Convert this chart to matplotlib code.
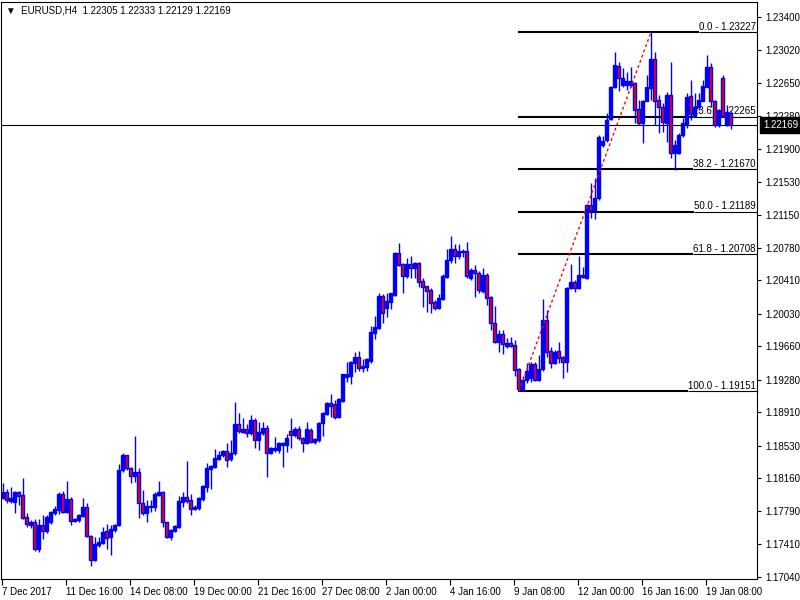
import matplotlib
matplotlib.use("Agg")
import matplotlib.pyplot as plt

plt.rcParams['font.family'] = ['Liberation Sans', 'DejaVu Sans']
plt.rcParams['font.size'] = 7

# EURUSD H4 candles, 7 Dec 2017 .. 19 Jan 2018 (one entry per bar)
opens = [1.1794, 1.1800, 1.1790, 1.1789, 1.1801, 1.1797, 1.1772, 1.1763, 1.1767, 1.1736,
         1.1763, 1.1756, 1.1767, 1.1777, 1.1780, 1.1798, 1.1778, 1.1793, 1.1768, 1.1769,
         1.1773, 1.1784, 1.1750, 1.1723, 1.1740, 1.1743, 1.1756, 1.1749, 1.1757, 1.1763,
         1.1825, 1.1842, 1.1828, 1.1819, 1.1823, 1.1788, 1.1777, 1.1783, 1.1783, 1.1797,
         1.1801, 1.1766, 1.1749, 1.1756, 1.1761, 1.1789, 1.1795, 1.1791, 1.1781, 1.1782,
         1.1793, 1.1806, 1.1827, 1.1829, 1.1838, 1.1842, 1.1847, 1.1838, 1.1845, 1.1878,
         1.1869, 1.1872, 1.1868, 1.1882, 1.1859, 1.1868, 1.1873, 1.1845, 1.1848, 1.1848,
         1.1854, 1.1854, 1.1870, 1.1865, 1.1872, 1.1862, 1.1856, 1.1871, 1.1857, 1.1859,
         1.1879, 1.1889, 1.1902, 1.1901, 1.1886, 1.1904, 1.1931, 1.1932, 1.1947, 1.1954,
         1.1941, 1.1942, 1.1949, 1.1981, 1.1987, 1.2023, 1.2010, 1.2016, 1.2024, 1.2072,
         1.2059, 1.2046, 1.2059, 1.2055, 1.2061, 1.2040, 1.2034, 1.2030, 1.2016, 1.2009,
         1.2020, 1.2045, 1.2064, 1.2076, 1.2068, 1.2073, 1.2074, 1.2043, 1.2053, 1.2049,
         1.2029, 1.2047, 1.2022, 1.1992, 1.1971, 1.1980, 1.1966, 1.1970, 1.1967, 1.1940,
         1.1917, 1.1928, 1.1930, 1.1946, 1.1928, 1.1940, 1.1996, 1.1961, 1.1947, 1.1961,
         1.1954, 1.1948, 1.2032, 1.2039, 1.2032, 1.2047, 1.2043, 1.2126, 1.2121, 1.2134,
         1.2195, 1.2200, 1.2224, 1.2261, 1.2284, 1.2263, 1.2263, 1.2263, 1.2265, 1.2235,
         1.2220, 1.2245, 1.2259, 1.2292, 1.2246, 1.2238, 1.2220, 1.2251, 1.2185, 1.2185,
         1.2206, 1.2219, 1.2250, 1.2228, 1.2238, 1.2245, 1.2261, 1.2283, 1.2244, 1.2217,
         1.2271, 1.2217, 1.22305]
highs = [1.1811, 1.1804, 1.1806, 1.1802, 1.1802, 1.1816, 1.1777, 1.1769, 1.1770, 1.1770,
         1.1774, 1.1774, 1.1779, 1.1785, 1.1801, 1.1802, 1.1813, 1.1795, 1.1771, 1.1775,
         1.1794, 1.1788, 1.1752, 1.1749, 1.1749, 1.1761, 1.1764, 1.1763, 1.1764, 1.1832,
         1.1845, 1.1843, 1.1829, 1.1864, 1.1828, 1.1803, 1.1791, 1.1791, 1.1800, 1.1813,
         1.1802, 1.1767, 1.1758, 1.1763, 1.1796, 1.1800, 1.1836, 1.1798, 1.1786, 1.1795,
         1.1808, 1.1834, 1.1831, 1.1849, 1.1847, 1.1848, 1.1856, 1.1860, 1.1903, 1.1890,
         1.1885, 1.1878, 1.1888, 1.1885, 1.1880, 1.1880, 1.1877, 1.1852, 1.1863, 1.1857,
         1.1857, 1.1866, 1.1885, 1.1874, 1.1875, 1.1863, 1.1880, 1.1873, 1.1862, 1.1880,
         1.1891, 1.1903, 1.1912, 1.1905, 1.1907, 1.1935, 1.1948, 1.1949, 1.1959, 1.1961,
         1.1951, 1.1953, 1.1989, 1.2000, 1.2026, 1.2025, 1.2026, 1.2027, 1.2073, 1.2083,
         1.2061, 1.2066, 1.2068, 1.2062, 1.2062, 1.2043, 1.2035, 1.2032, 1.2019, 1.2025,
         1.2048, 1.2077, 1.2091, 1.2082, 1.2082, 1.2077, 1.2084, 1.2055, 1.2058, 1.2052,
         1.2055, 1.2049, 1.2023, 1.2012, 1.1985, 1.1985, 1.1975, 1.1976, 1.1973, 1.1941,
         1.1932, 1.1947, 1.1948, 1.1948, 1.1956, 1.2020, 1.2007, 1.1965, 1.1962, 1.1971,
         1.1955, 1.2033, 1.2060, 1.2041, 1.2068, 1.2056, 1.2128, 1.2151, 1.2157, 1.2206,
         1.2205, 1.2231, 1.2262, 1.2300, 1.2289, 1.2282, 1.2278, 1.2283, 1.2266, 1.2246,
         1.2246, 1.2274, 1.23227, 1.2300, 1.2251, 1.2242, 1.2255, 1.2289, 1.2200, 1.2208,
         1.2225, 1.2254, 1.2268, 1.2254, 1.2254, 1.2268, 1.2297, 1.2288, 1.2246, 1.2236,
         1.2274, 1.2240, 1.22333]
lows = [1.1793, 1.1788, 1.1788, 1.1777, 1.1786, 1.1770, 1.1761, 1.1760, 1.1733, 1.1732,
        1.1747, 1.1754, 1.1764, 1.1774, 1.1775, 1.1777, 1.1777, 1.1763, 1.1767, 1.1766,
        1.1772, 1.1749, 1.1717, 1.1722, 1.1738, 1.1741, 1.1736, 1.1729, 1.1755, 1.1762,
        1.1823, 1.1826, 1.1811, 1.1812, 1.1771, 1.1774, 1.1766, 1.1778, 1.1779, 1.1796,
        1.1761, 1.1748, 1.1746, 1.1755, 1.1760, 1.1783, 1.1788, 1.1774, 1.1780, 1.1780,
        1.1790, 1.1800, 1.1804, 1.1828, 1.1837, 1.1840, 1.1829, 1.1836, 1.1842, 1.1868,
        1.1868, 1.1863, 1.1865, 1.1851, 1.1848, 1.1865, 1.1818, 1.1844, 1.1846, 1.1845,
        1.1829, 1.1846, 1.1850, 1.1863, 1.1859, 1.1846, 1.1855, 1.1856, 1.1855, 1.1857,
        1.1864, 1.1888, 1.1886, 1.1883, 1.1885, 1.1903, 1.1925, 1.1923, 1.1937, 1.1938,
        1.1937, 1.1938, 1.1947, 1.1974, 1.1986, 1.1993, 1.1999, 1.2008, 1.2023, 1.2057,
        1.2026, 1.2043, 1.2044, 1.2043, 1.2033, 1.2011, 1.2005, 1.2004, 1.2007, 1.2008,
        1.2019, 1.2043, 1.2061, 1.2061, 1.2065, 1.2067, 1.2043, 1.2041, 1.2022, 1.2027,
        1.2026, 1.2013, 1.1985, 1.1970, 1.1959, 1.1957, 1.1964, 1.1965, 1.1932, 1.19151,
        1.1916, 1.1924, 1.1925, 1.1927, 1.1927, 1.1938, 1.1954, 1.1941, 1.1946, 1.1947,
        1.1930, 1.1937, 1.2031, 1.2028, 1.2031, 1.2043, 1.2042, 1.2112, 1.2111, 1.2132,
        1.2192, 1.2198, 1.2223, 1.2259, 1.2256, 1.2260, 1.2257, 1.2261, 1.2220, 1.2217,
        1.2197, 1.2244, 1.2246, 1.2217, 1.2208, 1.2209, 1.2198, 1.2180, 1.2166, 1.2184,
        1.2204, 1.2214, 1.2223, 1.2226, 1.2234, 1.2244, 1.2260, 1.2238, 1.2215, 1.2215,
        1.2226, 1.2216, 1.22129]
closes = [1.1800, 1.1791, 1.1794, 1.1801, 1.1796, 1.1771, 1.1764, 1.1767, 1.1736, 1.1763,
          1.1756, 1.1772, 1.1778, 1.1781, 1.1798, 1.1778, 1.1793, 1.1768, 1.1770, 1.1774,
          1.1784, 1.1750, 1.1723, 1.1741, 1.1744, 1.1755, 1.1748, 1.1759, 1.1763, 1.1826,
          1.1842, 1.1828, 1.1819, 1.1823, 1.1788, 1.1777, 1.1785, 1.1785, 1.1798, 1.1801,
          1.1766, 1.1749, 1.1757, 1.1762, 1.1790, 1.1795, 1.1790, 1.1781, 1.1783, 1.1794,
          1.1807, 1.1828, 1.1830, 1.1839, 1.1842, 1.1847, 1.1837, 1.1845, 1.1878, 1.1870,
          1.1872, 1.1868, 1.1882, 1.1860, 1.1869, 1.1873, 1.1845, 1.1851, 1.1851, 1.1856,
          1.1856, 1.1862, 1.1865, 1.1872, 1.1862, 1.1856, 1.1872, 1.1857, 1.1861, 1.1879,
          1.1890, 1.1902, 1.1898, 1.1886, 1.1906, 1.1934, 1.1934, 1.1948, 1.1954, 1.1941,
          1.1944, 1.1951, 1.1982, 1.1988, 1.2023, 1.2004, 1.2017, 1.2026, 1.2072, 1.2058,
          1.2046, 1.2059, 1.2055, 1.2061, 1.2039, 1.2033, 1.2029, 1.2015, 1.2009, 1.2021,
          1.2046, 1.2064, 1.2076, 1.2068, 1.2074, 1.2074, 1.2046, 1.2053, 1.2049, 1.2030,
          1.2047, 1.2021, 1.1992, 1.1971, 1.1980, 1.1969, 1.1970, 1.1966, 1.1939, 1.1917,
          1.1928, 1.1938, 1.1946, 1.1928, 1.1940, 1.1996, 1.1960, 1.1947, 1.1960, 1.1953,
          1.1948, 1.2032, 1.2039, 1.2032, 1.2047, 1.2045, 1.2126, 1.2121, 1.2134, 1.2204,
          1.2199, 1.2223, 1.2261, 1.2285, 1.2271, 1.2271, 1.2267, 1.2267, 1.2234, 1.2220,
          1.2245, 1.2260, 1.2292, 1.2244, 1.2238, 1.2221, 1.2251, 1.2185, 1.2195, 1.2206,
          1.2220, 1.2249, 1.2230, 1.2238, 1.2246, 1.2262, 1.2283, 1.2244, 1.2217, 1.2234,
          1.2228, 1.2232, 1.22169]

date_labels = ["7 Dec 2017", "11 Dec 16:00", "14 Dec 08:00", "19 Dec 00:00", "21 Dec 16:00",
               "27 Dec 08:00", "2 Jan 00:00", "4 Jan 16:00", "9 Jan 08:00", "12 Jan 00:00",
               "16 Jan 16:00", "19 Jan 08:00"]
price_ticks = [1.17040, 1.17410, 1.17790, 1.18160, 1.18530, 1.18910, 1.19280, 1.19660, 1.20030,
               1.20410, 1.20780, 1.21150, 1.21530, 1.21900, 1.22280, 1.22650, 1.23020, 1.23400]

# fibo retracement drawn from the 9 Jan low to the 16 Jan high
fib_start_bar = 129
fib_end_bar = 162
fib_ratios = ["0.0", "23.6", "38.2", "50.0", "61.8", "100.0"]
fib_levels = [1.23227, 1.22265, 1.21670, 1.21189, 1.20708, 1.19151]

blue = '#0000FF'
red = '#FF0000'

fig = plt.figure(figsize=(8, 6), dpi=100)
ax = fig.add_axes([1/800, 21/600, 756/800, 577/600])
ax.set_xlim(-0.5, 188.5)
ax.set_ylim(1.17017, 1.23570)

n = len(closes)
xs = list(range(n))

# wicks then bodies (bear bodies: red inside a blue outline)
ax.vlines(xs, lows, highs, color=blue, lw=1.0, zorder=3)
for i in xs:
    o, c = opens[i], closes[i]
    body = abs(c - o)
    if body < 0.00005:
        ax.hlines(c, i - 0.4, i + 0.4, color=blue, lw=1.0, zorder=4)
        continue
    fc = blue if c >= o else red
    ax.bar(i, body, bottom=min(o, c), width=0.75, color=fc, edgecolor=blue, linewidth=1.0, zorder=4)

# dotted trend line of the fibo
ax.plot([fib_start_bar, fib_end_bar], [lows[fib_start_bar], highs[fib_end_bar]],
        color=red, lw=1.0, ls=(0, (2, 2)), zorder=5)

# fibo texts, right aligned at the chart edge
texts = []
for r, lvl in zip(fib_ratios, fib_levels):
    t = ax.text(188.2, lvl + 0.00005, f"{r} - {lvl:.5f}", ha='right', va='bottom',
                fontsize=7, color='black', zorder=2)
    texts.append(t)
fig.canvas.draw()
inv = ax.transData.inverted()
for t, lvl in zip(texts, fib_levels):
    bb = t.get_window_extent()
    xtext = inv.transform((bb.x0, bb.y0))[0]
    ax.hlines(lvl, fib_start_bar - 0.3, xtext, color='black', lw=1.5, zorder=2)
    ax.hlines(lvl, xtext, 188.5, color='black', lw=0.8, zorder=2)

# current price line + label
last = closes[-1]
ax.axhline(last, color='black', lw=0.8, zorder=2)
ax.text(1.008, last, f"{last:.5f}", transform=ax.get_yaxis_transform(), ha='left', va='center',
        color='white', fontsize=7, clip_on=False,
        bbox=dict(boxstyle='square,pad=0.3', fc='black', ec='black'))

# header
ax.text(0.006, 0.986, "\u25bc  EURUSD,H4  %.5f %.5f %.5f %.5f" % (opens[-1], highs[-1], lows[-1], closes[-1]),
        transform=ax.transAxes, ha='left', va='center', fontsize=7, color='black')

# axes styling
ax.yaxis.tick_right()
ax.set_yticks(price_ticks)
ax.set_yticklabels([f"{p:.5f}" for p in price_ticks])
ax.tick_params(axis='y', direction='out', length=3, width=0.8, pad=3, labelsize=7)
ax.set_xticks([16 * k - 0.25 for k in range(len(date_labels))])
ax.set_xticklabels(date_labels)
for lab in ax.get_xticklabels():
    lab.set_horizontalalignment('left')
ax.tick_params(axis='x', direction='out', length=4, width=0.8, pad=2, labelsize=7)
for s in ax.spines.values():
    s.set_linewidth(0.8)
    s.set_color('black')

fig.savefig("out.png", dpi=100)
